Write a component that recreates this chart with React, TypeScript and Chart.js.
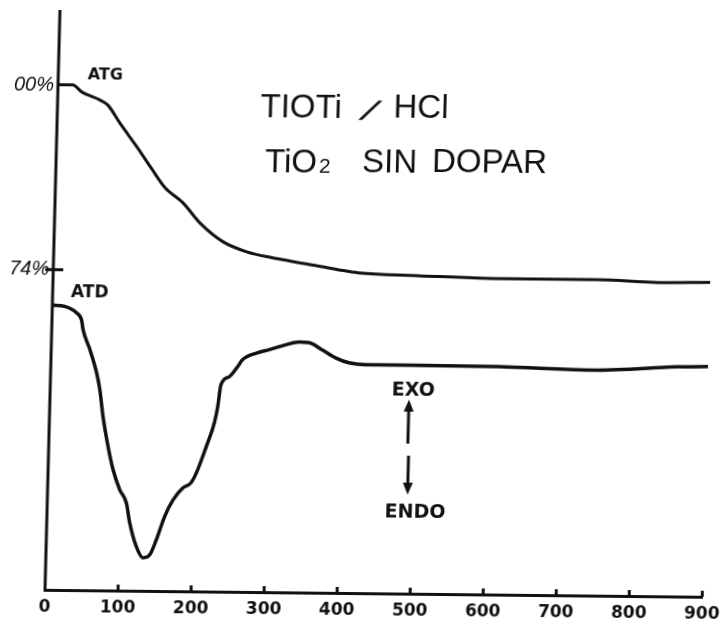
import React, { useEffect, useRef } from "react";
import { Chart, registerables } from "chart.js";

Chart.register(...registerables);

// Temperature (°C) axis
const xTickValues = [0, 100, 200, 300, 400, 500, 600, 700, 800, 900];

// ATG: mass (%) vs temperature
const atgTemp = [0, 20, 33, 58, 69, 86, 110, 132, 150, 175, 199, 231, 264, 299, 346, 391, 418, 500, 610, 746, 828, 900];
const atgMass = [100, 100, 99.0, 97.9, 97.2, 94.7, 91.4, 88.2, 85.7, 83.6, 80.8, 78.2, 76.8, 76.0, 75.2, 74.4, 74.0, 73.7, 73.4, 73.4, 73.1, 73.2];

// ATD: differential signal (arbitrary units) vs temperature
const atdTemp = [0, 17, 33.5, 40.5, 43, 53, 63, 68, 73.4, 81.3, 89, 98.7, 108.4, 113.6, 123.5, 133, 142, 150.6, 161, 172, 185, 196, 203, 215.5, 226, 230, 233.7, 245, 255.7, 262, 281, 298, 321.4, 339, 352.7, 370.7, 390, 408, 431, 476, 612.6, 749, 858, 900];
const atdSignal = [49.1, 48.9, 47.8, 46.6, 44.9, 41.5, 37.5, 34.6, 29.9, 24.8, 20.8, 17.4, 15.1, 11.7, 7.6, 5.7, 6.2, 8.8, 12.8, 15.7, 17.8, 18.7, 20.4, 24.9, 29.1, 31.9, 35.7, 37.1, 38.8, 40.0, 41.2, 41.8, 42.7, 43.2, 43.1, 41.9, 40.5, 39.7, 39.4, 39.4, 39.3, 38.9, 39.6, 39.7];

// Marked mass levels on the left axis
const massMarks = [100, 74];

const INK = "#111111";

const annotate = {
  id: "annotate",
  afterDraw(chart: any) {
    const { ctx, chartArea, scales } = chart;
    const { left, top, bottom } = chartArea;
    const xs = scales.x;
    const ys = scales.y1;
    ctx.save();
    ctx.strokeStyle = INK;
    ctx.fillStyle = INK;
    ctx.lineCap = "butt";

    // vertical axis
    ctx.lineWidth = 3;
    ctx.beginPath();
    ctx.moveTo(left, top);
    ctx.lineTo(left, bottom + 1.5);
    ctx.stroke();

    // inward tick bumps on the temperature axis
    ctx.lineWidth = 3;
    xTickValues.slice(1).forEach((v) => {
      const px = xs.getPixelForValue(v);
      ctx.beginPath();
      ctx.moveTo(px, bottom);
      ctx.lineTo(px, bottom - 6);
      ctx.stroke();
    });

    // 74% mark
    const p74 = ys.getPixelForValue(massMarks[1]);
    ctx.lineWidth = 3;
    ctx.beginPath();
    ctx.moveTo(left - 8, p74);
    ctx.lineTo(left + 10, p74);
    ctx.stroke();

    // mass labels
    ctx.font = "italic 20px 'Liberation Sans'";
    ctx.textAlign = "right";
    ctx.textBaseline = "middle";
    ctx.fillText(massMarks[0] + "%", left - 4, ys.getPixelForValue(massMarks[0]) + 1);
    ctx.fillText(massMarks[1] + "%", left - 4, p74);

    // curve labels
    ctx.textAlign = "center";
    ctx.font = "bold 16px 'DejaVu Sans'";
    ctx.fillText("ATG", 92, 75);
    ctx.font = "bold 17px 'DejaVu Sans'";
    ctx.fillText("ATD", 82, 293);

    // title
    ctx.textAlign = "left";
    ctx.textBaseline = "alphabetic";
    ctx.font = "33px 'Liberation Sans'";
    ctx.fillText("TIOTi", 248, 115);
    ctx.fillText("HCl", 381, 113.5);
    ctx.save();
    ctx.translate(349, 114);
    ctx.transform(1, 0, -0.7, 1, 0, 0);
    ctx.font = "bold 22px 'DejaVu Sans'";
    ctx.lineWidth = 1.5;
    ctx.fillText("/", 0, 0);
    ctx.strokeText("/", 0, 0);
    ctx.restore();
    ctx.font = "33px 'Liberation Sans'";
    ctx.fillText("TiO", 254, 170);
    const wTiO = ctx.measureText("TiO").width;
    ctx.font = "21px 'Liberation Sans'";
    ctx.fillText("2", 254 + wTiO + 2, 170);
    ctx.font = "33px 'Liberation Sans'";
    ctx.fillText("SIN", 351, 168.7);
    ctx.fillText("DOPAR", 421, 168);

    // EXO / ENDO
    ctx.textAlign = "center";
    ctx.font = "bold 19px 'DejaVu Sans'";
    ctx.fillText("EXO", 408, 392);
    ctx.fillText("ENDO", 413, 514);

    // arrows
    const ax = 404;
    ctx.lineWidth = 3;
    ctx.beginPath();
    ctx.moveTo(ax, 404);
    ctx.lineTo(ax, 440);
    ctx.stroke();
    ctx.beginPath();
    ctx.moveTo(ax, 396);
    ctx.lineTo(ax - 5, 408);
    ctx.lineTo(ax + 5, 408);
    ctx.closePath();
    ctx.fill();

    ctx.beginPath();
    ctx.moveTo(ax + 1, 452);
    ctx.lineTo(ax + 1, 481);
    ctx.stroke();
    ctx.beginPath();
    ctx.moveTo(ax + 1, 491);
    ctx.lineTo(ax - 4, 479);
    ctx.lineTo(ax + 6, 479);
    ctx.closePath();
    ctx.fill();

    ctx.restore();
  },
};

export default function App() {
  const ref = useRef<HTMLCanvasElement | null>(null);

  useEffect(() => {
    if (!ref.current) return;
    const chart = new Chart(ref.current, {
      type: "line",
      data: {
        datasets: [
          {
            label: "ATG",
            data: atgTemp.map((t, i) => ({ x: t, y: atgMass[i] })),
            yAxisID: "y1",
            borderColor: INK,
            borderWidth: 3,
            pointRadius: 0,
            cubicInterpolationMode: "monotone",
            fill: false,
          },
          {
            label: "ATD",
            data: atdTemp.map((t, i) => ({ x: t, y: atdSignal[i] })),
            yAxisID: "y2",
            borderColor: INK,
            borderWidth: 3.5,
            pointRadius: 0,
            cubicInterpolationMode: "monotone",
            fill: false,
          },
        ],
      },
      options: {
        animation: false,
        responsive: false,
        devicePixelRatio: 1,
        layout: { padding: { left: 45, right: 22, top: 10, bottom: 0 } },
        plugins: { legend: { display: false }, tooltip: { enabled: false } },
        scales: {
          x: {
            type: "linear",
            min: 0,
            max: 900,
            afterBuildTicks: (scale: any) => {
              scale.ticks = xTickValues.map((v) => ({ value: v }));
            },
            afterFit: (scale: any) => {
              scale.height = 35;
            },
            grid: { display: false, drawTicks: false },
            border: { display: true, color: INK, width: 3 },
            ticks: {
              color: INK,
              padding: 7,
              font: { family: "'DejaVu Sans'", size: 17, weight: "bold" },
            },
          },
          y1: { type: "linear", display: false, min: 29, max: 110.5 },
          y2: { type: "linear", display: false, min: 0, max: 100 },
        },
      },
      plugins: [annotate],
    });
    return () => chart.destroy();
  }, []);

  return (
    <div
      style={{
        position: "fixed",
        left: 0,
        top: 0,
        width: 727,
        height: 625,
        overflow: "hidden",
        background: "#fff",
      }}
    >
      <canvas
        ref={ref}
        width={727}
        height={625}
        style={{
          display: "block",
          transformOrigin: "45px 590px",
          transform: "matrix(1, 0.0106, -0.0258, 1, 0, 0)",
        }}
      />
    </div>
  );
}
